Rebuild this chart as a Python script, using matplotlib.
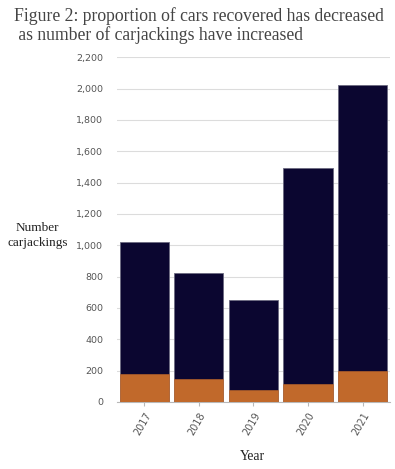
import matplotlib
matplotlib.use("Agg")
import matplotlib.pyplot as plt
import numpy as np

years = ["2017", "2018", "2019", "2020", "2021"]
total = [1021, 825, 652, 1490, 2025]
recovered = [180, 144, 75, 115, 199]

navy = "#0b0630"
orange = "#c1692b"

fig = plt.figure(figsize=(3.95, 4.69), dpi=100)
ax = fig.add_axes([0.296, 0.143, 0.691, 0.735])

x = np.arange(len(years))
ax.bar(x, total, width=0.9, color=navy, edgecolor="#6b6a80", linewidth=0.6, zorder=2)
ax.bar(x, recovered, width=0.9, color=orange, edgecolor=orange, linewidth=0.4, zorder=3)

ax.set_xlim(-0.5, 4.5)
ax.set_ylim(0, 2200)
ax.set_yticks(np.arange(0, 2201, 200))
ax.set_yticklabels(["{:,}".format(v) for v in range(0, 2201, 200)])
ax.set_xticks(x)
ax.set_xticklabels(years, rotation=60, ha="right", rotation_mode="anchor")

ax.grid(axis="y", color="#dcdcdc", linewidth=0.8, zorder=0)
ax.set_axisbelow(True)
for s in ["top", "right", "left"]:
    ax.spines[s].set_visible(False)
ax.spines["bottom"].set_color("#b8b8b8")
ax.tick_params(axis="y", length=0, pad=10, labelsize=6.8, labelcolor="#555555")
ax.tick_params(axis="x", length=3, color="#b8b8b8", pad=3, labelsize=7, labelcolor="#555555")

fig.text(0.035, 0.985, "Figure 2: proportion of cars recovered has decreased\n as number of carjackings have increased",
         fontsize=12.7, family="Liberation Serif", color="#444444", va="top", ha="left", linespacing=1.1)
fig.text(0.095, 0.498, "Number\ncarjackings", fontsize=9.5, family="Liberation Serif", color="#222222",
         ha="center", va="center", linespacing=1.3)
fig.text(0.64, 0.027, "Year", fontsize=9.8, family="Liberation Serif", color="#222222", ha="center", va="center")

fig.savefig("out.png", dpi=100)
